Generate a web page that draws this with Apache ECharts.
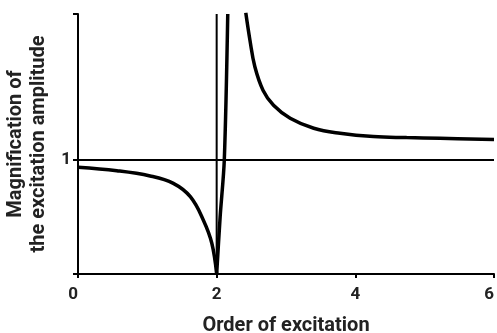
<!DOCTYPE html>
<html>
<head>
<meta charset="utf-8">
<script src="https://cdn.jsdelivr.net/npm/echarts@6/dist/echarts.min.js"></script>
<style>
html, body { margin: 0; padding: 0; background: #fff; }
#chart { width: 497px; height: 333px; }
</style>
</head>
<body>
<div id="chart"></div>
<script>
// values
var xTicks = [0, 2, 4, 6];
var yTop = 2.28;
var belowBranch = [[0, 0.936], [0.56, 0.906], [1.04, 0.86], [1.375, 0.795], [1.62, 0.678], [1.81, 0.47], [1.93, 0.27], [2.0, 0]];
var risingBranch = [[2.0, 0], [2.05, 0.5], [2.11, 1.0], [2.16, 2.28]];
var fallingBranch = [[2.42, 2.29], [2.48, 2.05], [2.55, 1.82], [2.67, 1.61], [2.82, 1.48], [3.06, 1.366], [3.4, 1.278], [3.78, 1.234], [4.26, 1.205], [4.74, 1.196], [5.22, 1.19], [6.0, 1.18]];
var unityLine = [[0, 1], [6, 1]];
var resonanceLine = [[2, 0], [2, 2.28]];

var font = 'Roboto, sans-serif';
var chart = echarts.init(document.getElementById('chart'));
chart.setOption({
    animation: false,
    grid: { left: 78, right: 3, top: 14, bottom: 59, containLabel: false, outerBoundsMode: 'none' },
    xAxis: {
        type: 'value',
        min: 0, max: 6, interval: 2,
        name: 'Order of excitation',
        nameLocation: 'middle',
        nameGap: 42,
        nameTextStyle: { fontFamily: font, fontWeight: 'bold', fontSize: 20, color: '#222' },
        axisLine: { lineStyle: { color: '#000', width: 2 } },
        axisTick: { show: true, length: 4, lineStyle: { color: '#000', width: 2 }, customValues: xTicks },
        axisLabel: { fontFamily: font, fontWeight: 'bold', fontSize: 17, color: '#222', margin: 12, alignMinLabel: 'right', alignMaxLabel: 'right', customValues: xTicks },
        splitLine: { show: false }
    },
    yAxis: {
        type: 'value',
        min: 0, max: yTop,
        name: 'Magnification of\nthe excitation amplitude',
        nameLocation: 'middle',
        nameGap: 28,
        nameTextStyle: { fontFamily: font, fontWeight: 'bold', fontSize: 20, color: '#222', lineHeight: 23 },
        axisLine: { lineStyle: { color: '#000', width: 2 } },
        axisTick: { show: true, length: 5, lineStyle: { color: '#000', width: 2 }, customValues: [0, 1, yTop] },
        axisLabel: { fontFamily: font, fontWeight: 'bold', fontSize: 17, color: '#222', margin: 7, customValues: [1] },
        splitLine: { show: false }
    },
    series: [
        { type: 'line', data: unityLine, symbol: 'none', lineStyle: { color: '#000', width: 2 } },
        { type: 'line', data: resonanceLine, symbol: 'none', lineStyle: { color: '#000', width: 2 } },
        { type: 'line', data: belowBranch, symbol: 'none', smooth: 0.4, lineStyle: { color: '#000', width: 3.5 } },
        { type: 'line', data: risingBranch, symbol: 'none', smooth: 0.3, lineStyle: { color: '#000', width: 3.5 } },
        { type: 'line', data: fallingBranch, symbol: 'none', smooth: 0.4, lineStyle: { color: '#000', width: 3.5 } }
    ]
});
</script>
</body>
</html>
